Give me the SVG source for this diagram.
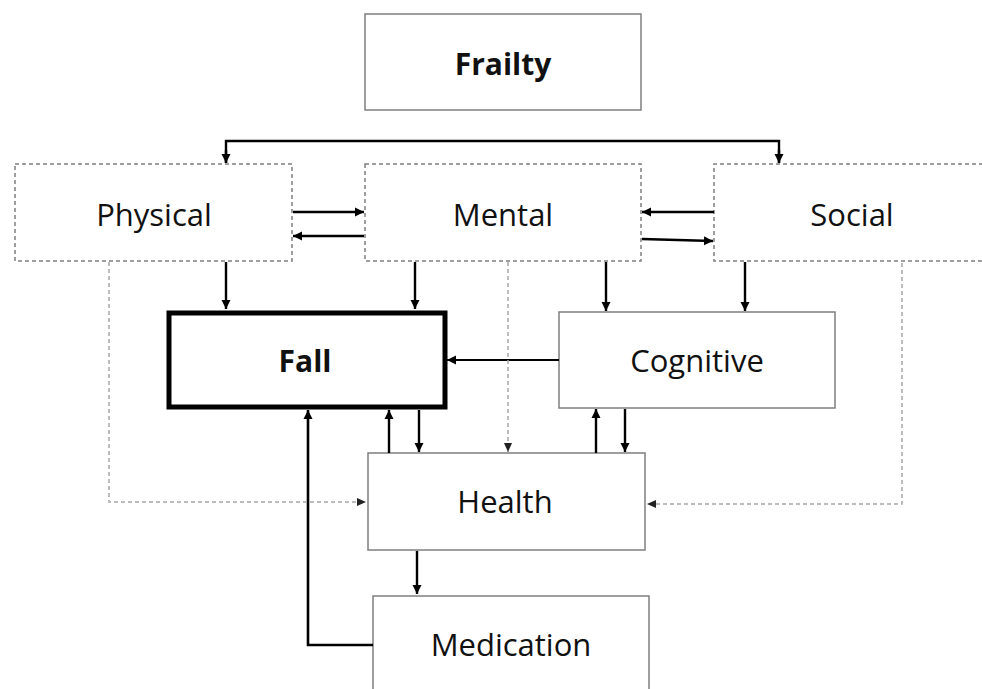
<svg xmlns="http://www.w3.org/2000/svg" width="982" height="689" viewBox="0 0 982 689">
<style>
.box{fill:#fff;stroke:#7f7f7f;stroke-width:1.5}
.dbox{fill:#fff;stroke:#7f7f7f;stroke-width:1.5;stroke-dasharray:4 3}
.thick{fill:#fff;stroke:#000;stroke-width:5}
.lbl{font-family:"Open Sans","Liberation Sans",sans-serif;font-size:31px;fill:#111;text-anchor:middle}
.b{font-weight:bold;font-size:30px}
.c{fill:none;stroke:#000;stroke-width:2.4}
.cd{fill:none;stroke:#a6a6a6;stroke-width:1.5;stroke-dasharray:4 3}
</style>
<defs>
<marker id="a" markerUnits="userSpaceOnUse" markerWidth="10" markerHeight="10" refX="9" refY="5" orient="auto"><path d="M0,0.5 L9,5 L0,9.5Z" fill="#000"/></marker>
<marker id="ad" markerUnits="userSpaceOnUse" markerWidth="10" markerHeight="10" refX="9" refY="5" orient="auto"><path d="M0,1 L9,5 L0,9Z" fill="#222"/></marker>
</defs>
<g id="frailty"><rect class="box" x="365" y="14" width="276" height="96"/><text class="lbl b" x="503" y="75">Frailty</text></g>
<g id="physical"><rect class="dbox" x="15" y="164" width="277" height="97"/><text class="lbl" x="154" y="226">Physical</text></g>
<g id="mental"><rect class="dbox" x="365" y="164" width="276" height="97"/><text class="lbl" x="503" y="226">Mental</text></g>
<g id="social"><path class="dbox" d="M990,164 H714 V261 H990"/><text class="lbl" x="852" y="226">Social</text></g>
<g id="fall"><rect class="thick" x="169" y="313" width="276" height="94"/><text class="lbl b" x="305" y="372">Fall</text></g>
<g id="cognitive"><rect class="box" x="559" y="312" width="276" height="96"/><text class="lbl" x="697" y="372">Cognitive</text></g>
<g id="health"><rect class="box" x="368" y="453" width="277" height="97"/><text class="lbl" x="505" y="513">Health</text></g>
<g id="medication"><path class="box" d="M373,695 V596 H649 V695"/><text class="lbl" x="511" y="656">Medication</text></g>
<g id="connectors">
<path class="c" d="M226,163 V141 H779 V163"/>
<path class="c" d="M226,150 V163" marker-end="url(#a)"/>
<path class="c" d="M779,150 V163" marker-end="url(#a)"/>
<path class="c" d="M293,212 H364" marker-end="url(#a)"/>
<path class="c" d="M364,236 H293" marker-end="url(#a)"/>
<path class="c" d="M714,212 H642" marker-end="url(#a)"/>
<path class="c" d="M642,239 L713,241" marker-end="url(#a)"/>
<path class="c" d="M226,262 V309" marker-end="url(#a)"/>
<path class="c" d="M415,262 V309" marker-end="url(#a)"/>
<path class="c" d="M606,262 V311" marker-end="url(#a)"/>
<path class="c" d="M745,262 V311" marker-end="url(#a)"/>
<path class="c" d="M559,360 H447" marker-end="url(#a)" style="stroke-width:1.8"/>
<path class="c" d="M389,453 V410" marker-end="url(#a)"/>
<path class="c" d="M419,410 V452" marker-end="url(#a)"/>
<path class="c" d="M596,453 V409" marker-end="url(#a)"/>
<path class="c" d="M625,409 V452" marker-end="url(#a)"/>
<path class="c" d="M417,551 V594" marker-end="url(#a)"/>
<path class="c" d="M373,645 H308 V410" marker-end="url(#a)" style="stroke-width:2.6"/>
<path class="cd" d="M508,262 V452" marker-end="url(#ad)"/>
<path class="cd" d="M109,262 V502 H366" marker-end="url(#ad)"/>
<path class="cd" d="M902,263 V504 H647" marker-end="url(#ad)"/>
</g>
</svg>
